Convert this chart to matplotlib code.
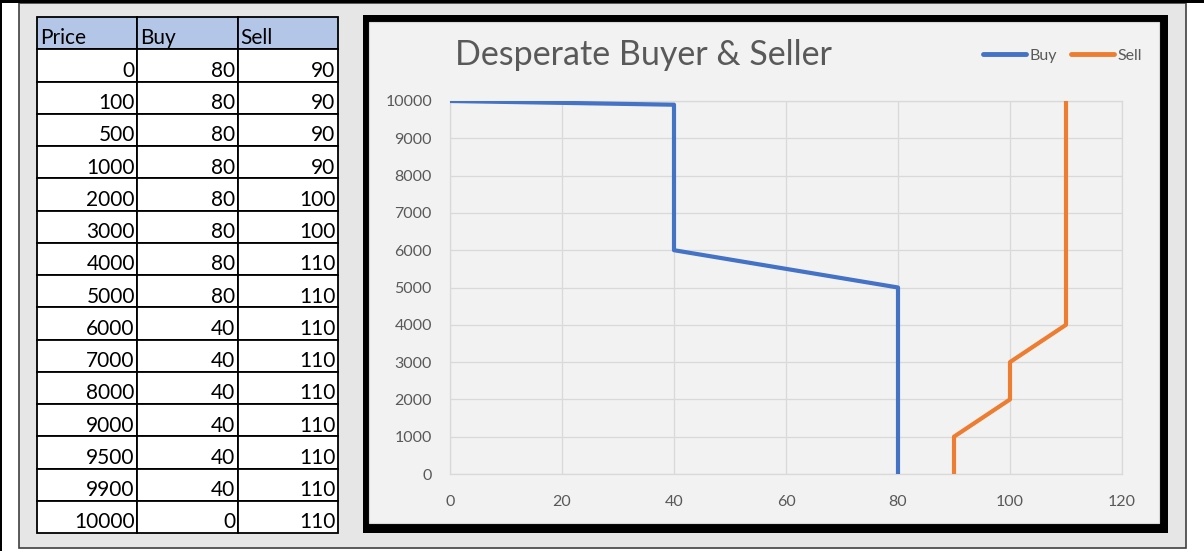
import matplotlib
matplotlib.use("Agg")
import matplotlib.pyplot as plt
from matplotlib.patches import Rectangle

plt.rcParams['font.family'] = ['Lato', 'DejaVu Sans']

# table / chart data
headers = ["Price", "Buy", "Sell"]
price = [0, 100, 500, 1000, 2000, 3000, 4000, 5000, 6000, 7000, 8000, 9000, 9500, 9900, 10000]
buy = [80, 80, 80, 80, 80, 80, 80, 80, 40, 40, 40, 40, 40, 40, 0]
sell = [90, 90, 90, 90, 100, 100, 110, 110, 110, 110, 110, 110, 110, 110, 110]
title = "Desperate Buyer & Seller"

W, H = 1204, 551
fig = plt.figure(figsize=(W / 100, H / 100), dpi=100)
fig.patch.set_facecolor("white")


def rect(x0, y0, x1, y1, z=-10, **kw):
    # pixel box (top-left origin) -> figure fraction
    r = Rectangle((x0 / W, 1 - y1 / H), (x1 - x0) / W, (y1 - y0) / H,
                  transform=fig.transFigure, zorder=z, **kw)
    fig.add_artist(r)
    return r


# sheet background and frame lines
rect(19, 3, 1186, 548, facecolor="#E6E6E6", edgecolor="#404040", lw=1.2, z=-12)
rect(0, 0, W, 3, facecolor="black", edgecolor="none", z=-11)
rect(0, 0, 1.5, H, facecolor="black", edgecolor="none", z=-11)

# chart frame
rect(363, 15, 1168, 533, facecolor="black", edgecolor="none", z=-10)
rect(369, 22, 1159, 523, facecolor="#F2F2F2", edgecolor="#D9D9D9", lw=0.8, z=-9)

# ---- table ----
tx0, tx1, ty0, ty1 = 37, 338, 17, 533
tax = fig.add_axes([tx0 / W, 1 - ty1 / H, (tx1 - tx0) / W, (ty1 - ty0) / H])
nrows = len(price) + 1
tax.set_xlim(0, 3)
tax.set_ylim(nrows, 0)
tax.axis("off")
columns = [price, buy, sell]
for c in range(3):
    tax.add_patch(Rectangle((c, 0), 1, 1, facecolor="#B4C6E7", edgecolor="black", lw=1.3, clip_on=False))
    tax.text(c + 0.03, 0.84, headers[c], ha="left", va="baseline", fontsize=15, color="black")
    for r, v in enumerate(columns[c]):
        tax.add_patch(Rectangle((c, r + 1), 1, 1, facecolor="white", edgecolor="black", lw=1.3, clip_on=False))
        tax.text(c + 0.975, r + 1.86, str(v), ha="right", va="baseline", fontsize=15, color="black")

# ---- chart ----
px0, px1, py0, py1 = 450, 1122, 101, 474
ax = fig.add_axes([px0 / W, 1 - py1 / H, (px1 - px0) / W, (py1 - py0) / H])
ax.set_facecolor("#F2F2F2")
ax.plot(buy, price, color="#4472C4", lw=3, solid_joinstyle="round", label="Buy", zorder=3)
ax.plot(sell, price, color="#ED7D31", lw=3, solid_joinstyle="round", label="Sell", zorder=3)
ax.set_xlim(0, 120)
ax.set_ylim(0, 10000)
ax.set_xticks(range(0, 121, 20))
ax.set_yticks(range(0, 10001, 1000))
ax.grid(True, color="#D9D9D9", lw=0.9)
ax.set_axisbelow(True)
for s in ax.spines.values():
    s.set_color("#D9D9D9")
    s.set_linewidth(0.9)
ax.tick_params(length=0, labelsize=11.5, labelcolor="#595959")
ax.tick_params(axis="y", pad=13)
ax.tick_params(axis="x", pad=15)

fig.text(455 / W, 1 - 55 / H, title, fontsize=24.5, color="#595959", ha="left", va="center")

leg = fig.legend(loc="center right", bbox_to_anchor=(1142 / W, 1 - 56 / H), ncol=2,
                 frameon=False, fontsize=11.5, handlelength=2.7, handletextpad=0.2,
                 columnspacing=0.9, borderaxespad=0, borderpad=0)
for t in leg.get_texts():
    t.set_color("#595959")
for h in leg.legend_handles:
    h.set_linewidth(3.5)
    h.set_solid_capstyle("round")

fig.savefig("out.png", dpi=100)
